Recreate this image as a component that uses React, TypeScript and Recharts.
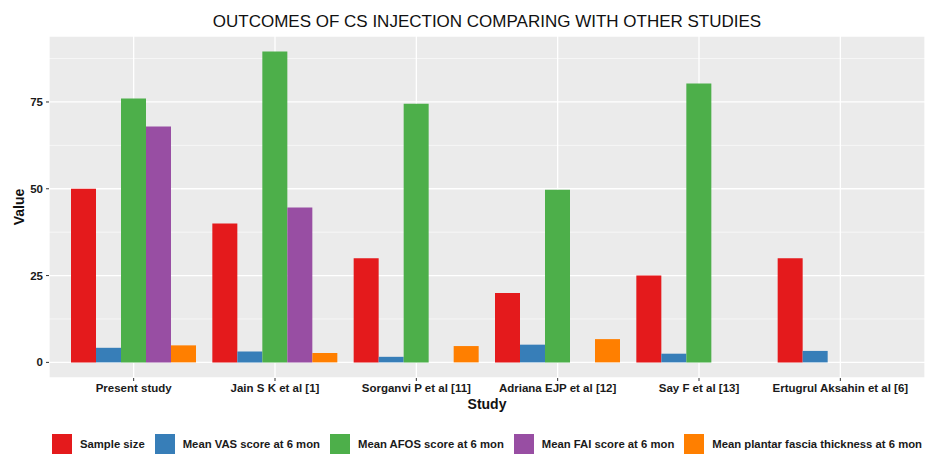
import { Bar, BarChart, CartesianGrid, Label, XAxis, YAxis } from "recharts";

document.body.style.margin = "0";

const studies = [
  "Present study",
  "Jain S K et al [1]",
  "Sorganvi P et al [11]",
  "Adriana EJP et al [12]",
  "Say F et al [13]",
  "Ertugrul Aksahin et al [6]",
];
const sampleSize = [50, 40, 30, 20, 25, 30];
const vasScore = [4.2, 3.1, 1.6, 5.1, 2.5, 3.3];
const afosScore = [76, 89.5, 74.5, 49.7, 80.3, null];
const faiScore = [67.9, 44.6, null, null, null, null];
const fasciaThickness = [4.9, 2.7, 4.7, 6.7, null, null];
const yTicks = [0, 25, 50, 75];
const yMinor = [12.5, 37.5, 62.5, 87.5];

const series = [
  { key: "sample", name: "Sample size", color: "#E41A1C" },
  { key: "vas", name: "Mean VAS score at 6 mon", color: "#377EB8" },
  { key: "afos", name: "Mean AFOS score at 6 mon", color: "#4DAF4A" },
  { key: "fai", name: "Mean FAI score at 6 mon", color: "#984EA3" },
  { key: "thick", name: "Mean plantar fascia thickness at 6 mon", color: "#FF7F00" },
];

const data = studies.map((s, i) => ({
  study: s,
  sample: sampleSize[i],
  vas: vasScore[i],
  afos: afosScore[i],
  fai: faiScore[i],
  thick: fasciaThickness[i],
}));

const font = "'Liberation Sans', Arial, sans-serif";
const tickStyle = { fontSize: 11.5, fontWeight: 700, fill: "#1a1a1a", fontFamily: font };

export default function App() {
  return (
    <div style={{ position: "relative", width: 939, height: 454, fontFamily: font, background: "#fff" }}>
      <div
        style={{
          position: "absolute",
          left: 49,
          width: 876,
          top: 12.5,
          lineHeight: "17px",
          fontSize: 17,
          textAlign: "center",
          color: "#111",
        }}
      >
        OUTCOMES OF CS INJECTION COMPARING WITH OTHER STUDIES
      </div>
      <BarChart
        width={939}
        height={454}
        data={data}
        margin={{ top: 36, right: 14, bottom: 0, left: 0 }}
        barSize={25}
        barGap={0}
      >
        <CartesianGrid fill="#EBEBEB" stroke="#fff" strokeWidth={0.6} vertical={false} horizontalValues={yMinor} />
        <CartesianGrid stroke="#fff" strokeWidth={1.3} fill="none" />
        <XAxis
          dataKey="study"
          height={76}
          padding={{ left: 14, right: 14 }}
          tickSize={3}
          tickMargin={3}
          tick={tickStyle}
          tickLine={{ stroke: "#333" }}
          axisLine={false}
          interval={0}
        >
          <Label
            value="Study"
            position="insideTop"
            offset={21}
            style={{ fontSize: 14, fontWeight: 700, fill: "#111", fontFamily: font }}
          />
        </XAxis>
        <YAxis
          width={49}
          domain={[-4.5, 94]}
          ticks={yTicks}
          allowDataOverflow
          tickSize={3}
          tickMargin={3}
          tick={tickStyle}
          tickLine={{ stroke: "#333" }}
          axisLine={false}
        >
          <Label
            content={() => (
              <text
                x={19}
                y={207}
                transform="rotate(-90 19 207)"
                textAnchor="middle"
                dominantBaseline="central"
                style={{ fontSize: 14, fontWeight: 700, fill: "#111", fontFamily: font }}
              >
                Value
              </text>
            )}
          />
        </YAxis>
        {series.map((s) => (
          <Bar key={s.key} dataKey={s.key} name={s.name} fill={s.color} isAnimationActive={false} />
        ))}
      </BarChart>
      <div
        style={{
          position: "absolute",
          left: 52,
          top: 434,
          display: "flex",
          alignItems: "center",
          fontSize: 11.3,
          fontWeight: 700,
          color: "#1a1a1a",
          whiteSpace: "nowrap",
        }}
      >
        {series.map((s) => (
          <div key={s.key} style={{ display: "flex", alignItems: "center", marginRight: 10 }}>
            <span style={{ width: 20, height: 20, background: s.color, marginRight: 8, display: "inline-block" }} />
            <span>{s.name}</span>
          </div>
        ))}
      </div>
    </div>
  );
}
